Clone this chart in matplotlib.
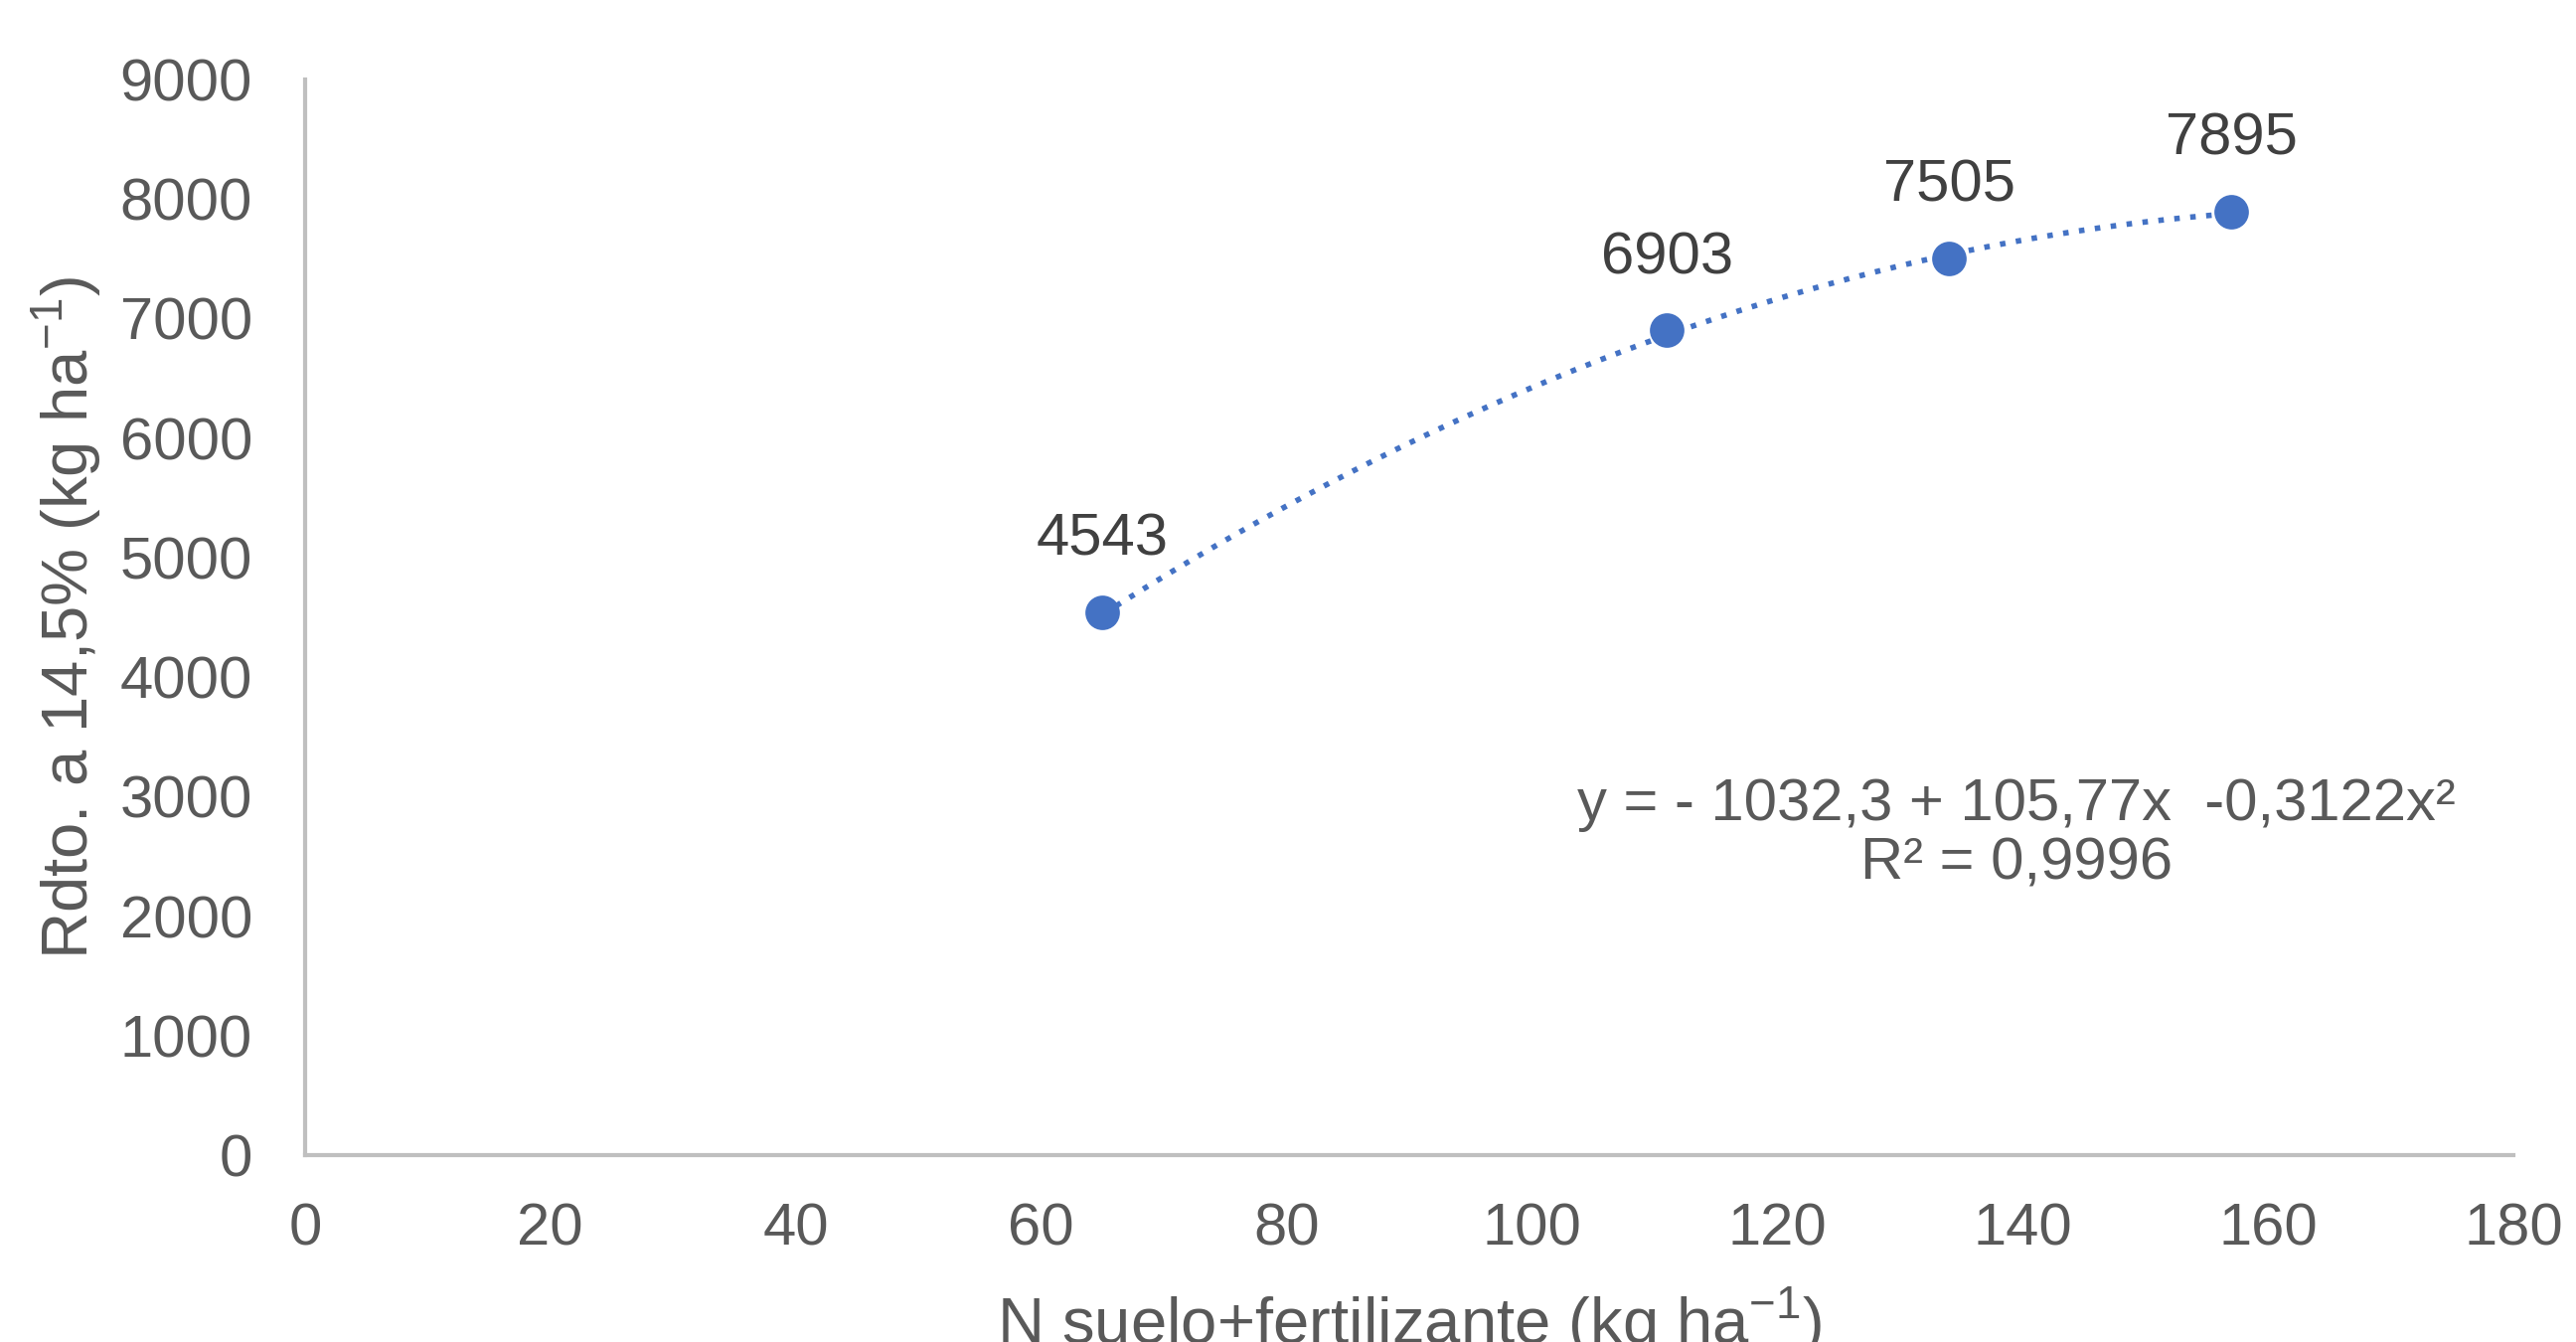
import matplotlib
matplotlib.use('Agg')
import matplotlib.pyplot as plt
import numpy as np

# data
n_total = [65, 111, 134, 157]            # N suelo+fertilizante (kg ha-1)
rdto = [4543, 6903, 7505, 7895]          # rendimiento (kg ha-1)
point_labels = ['4543', '6903', '7505', '7895']
fit_coef = [-0.3122, 105.77, -1032.3]    # polinomio de la linea de tendencia
x_ticks = [0, 20, 40, 60, 80, 100, 120, 140, 160, 180]
y_ticks = [0, 1000, 2000, 3000, 4000, 5000, 6000, 7000, 8000, 9000]

BLUE = '#4472C4'
GREY = '#595959'

plt.rcParams['font.family'] = ['Liberation Sans', 'DejaVu Sans']
plt.rcParams['mathtext.fontset'] = 'custom'
plt.rcParams['mathtext.rm'] = 'Liberation Sans'

fig = plt.figure(figsize=(25.92, 13.5), dpi=100)
ax = fig.add_axes([0.1184, 0.1393, 0.8573, 0.8014])

# linea de tendencia polinomica
xs = np.linspace(min(n_total), max(n_total), 200)
ax.plot(xs, np.polyval(fit_coef, xs), color=BLUE, lw=4,
        linestyle=(0, (1, 1.9)), dash_capstyle='butt', zorder=2)
ax.plot(n_total, rdto, 'o', color=BLUE, ms=25, mew=0, zorder=3)

for x, y, t in zip(n_total, rdto, point_labels):
    ax.annotate(t, (x, y), xytext=(0, 41), textcoords='offset points',
                ha='center', va='baseline', fontsize=43, color='#404040')

ax.text(0.775, 0.298, 'y = - 1032,3 + 105,77x  -0,3122x²\nR² = 0,9996',
        transform=ax.transAxes, ha='center', va='center', fontsize=43,
        color=GREY, linespacing=1.1)

ax.set_xlim(0, 180)
ax.set_ylim(0, 9000)
ax.set_xticks(x_ticks)
ax.set_yticks(y_ticks)
ax.tick_params(length=0, labelsize=43, labelcolor=GREY)
ax.tick_params(axis='y', pad=38)
ax.tick_params(axis='x', pad=34)
for s in ['top', 'right']:
    ax.spines[s].set_visible(False)
for s in ['left', 'bottom']:
    ax.spines[s].set_color('#BFBFBF')
    ax.spines[s].set_linewidth(3)

ax.set_xlabel('N suelo+fertilizante (kg ha$^{\\mathregular{-1}}$)', fontsize=47,
              color=GREY, labelpad=20)
ax.set_ylabel('Rdto. a 14,5% (kg ha$^{\\mathregular{-1}}$)', fontsize=47,
              color=GREY, labelpad=12)

fig.savefig('out.png', dpi=100)
